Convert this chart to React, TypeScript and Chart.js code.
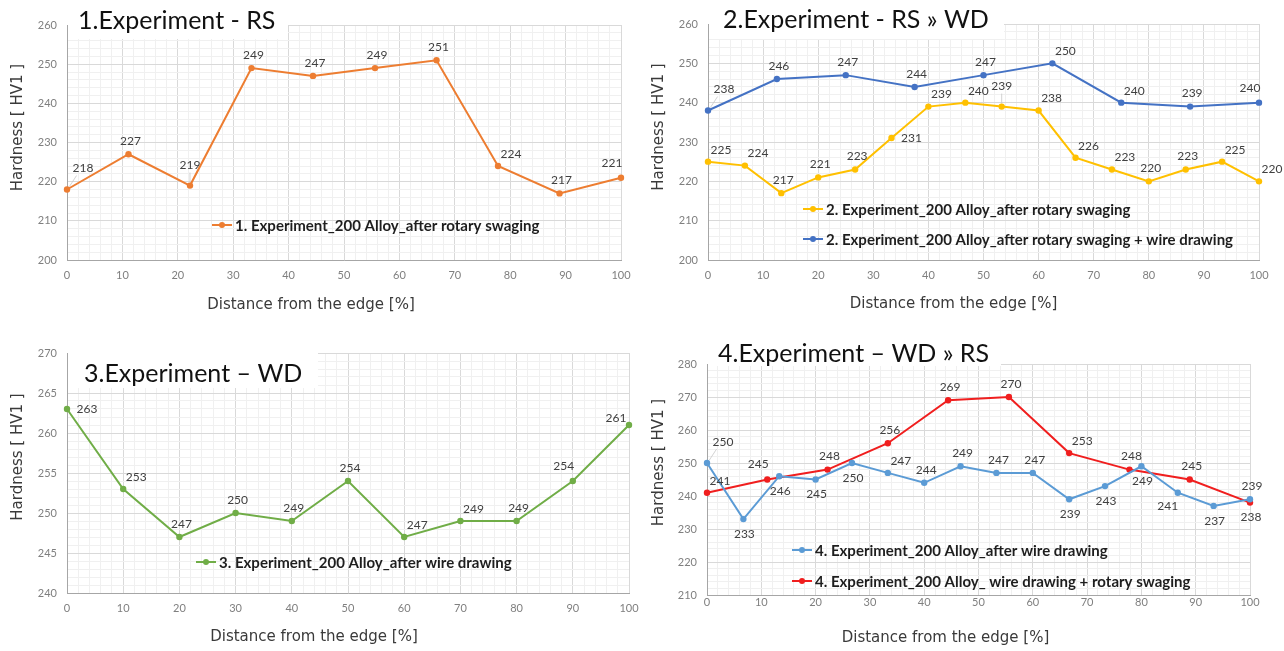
import React, { useEffect, useRef } from 'react';
import { Chart, registerables } from 'chart.js';
Chart.register(...registerables);

// ---------------- data ----------------
const X_NINTHS = [0, 11.1, 22.2, 33.3, 44.4, 55.6, 66.7, 77.8, 88.9, 100];
const X_FIFTEENTHS = [0, 6.7, 13.3, 20, 26.7, 33.3, 40, 46.7, 53.3, 60, 66.7, 73.3, 80, 86.7, 93.3, 100];
const X_EIGHTHS = [0, 12.5, 25, 37.5, 50, 62.5, 75, 87.5, 100];
const X_TENTHS = [0, 10, 20, 30, 40, 50, 60, 70, 80, 90, 100];

const EXP1_RS = [218, 227, 219, 249, 247, 249, 251, 224, 217, 221];
const EXP2_RS = [225, 224, 217, 221, 223, 231, 239, 240, 239, 238, 226, 223, 220, 223, 225, 220];
const EXP2_RS_WD = [238, 246, 247, 244, 247, 250, 240, 239, 240];
const EXP3_WD = [263, 253, 247, 250, 249, 254, 247, 249, 249, 254, 261];
const EXP4_WD = [250, 233, 246, 245, 250, 247, 244, 249, 247, 247, 239, 243, 249, 241, 237, 239];
const EXP4_WD_RS = [241, 245, 248, 256, 269, 270, 253, 248, 245, 238];

const TITLES = ['1.Experiment - RS', '2.Experiment - RS \u00bb WD', '3.Experiment \u2013 WD', '4.Experiment \u2013 WD \u00bb RS'];
const SERIES_NAMES = [
  '1. Experiment_200 Alloy_after rotary swaging',
  '2. Experiment_200 Alloy_after rotary swaging',
  '2. Experiment_200 Alloy_after rotary swaging + wire drawing',
  '3. Experiment_200 Alloy_after wire drawing',
  '4. Experiment_200 Alloy_after wire drawing',
  '4. Experiment_200 Alloy_ wire drawing + rotary swaging',
];
const X_TITLE = 'Distance from the edge [%]';
const Y_TITLE = 'Hardness [ HV1 ]';

// label placement keywords (style only)
const LBL1 = ['TR', 't', 'T', 't', 't', 't', 't', 'tr', 't', 'tl'];
const LBL2A = ['tr', 'tr', 't', 't', 't', 'r', 'tr', 'tr', 'T', 'tr', 'tr', 'tr', 't', 't', 'tr', 'tr'];
const LBL2B = ['TR', 't', 't', 't', 't', 'tr', 'tr', 't', 'tl'];
const LBL3 = ['r', 'tr', 't', 't', 't', 't', 'tr', 'tr', 't', 'tl', 'lt'];
const LBL4A = ['TR', 'b', 'b', 'b', 'b', 'tr', 't', 't', 't', 't', 'b', 'b', 'b', 'bl', 'b', 't'];
const LBL4B = ['tr', 'tl', 't', 't', 't', 't', 'tr', 't', 't', 'b'];

const ANCHOR: Record<string, [number, number]> = {
  t: [2, -13], T: [0, -20], tr: [13, -12], TR: [16, -21], tl: [-9, -15], lt: [-13, -7],
  r: [20, 0], b: [1, 15], bl: [-10, 13],
};
const LEADER = ['T', 'TR'];

type Series = { label: string; xs: number[]; ys: number[]; color: string; anchors: string[] };
type Panel = {
  left: number; top: number; width: number; height: number;
  area: { l: number; t: number; r: number; b: number };
  yMin: number; yMax: number; yMajor: number; yMinor: number;
  title: string; titleX: number; titleY: number; box: [number, number, number, number];
  series: Series[];
  legend: { x: number; y: number; gap: number };
  xLabelPad: number; xTitleY: number; xTitleShift: number; yTitleX: number; yTitleShift: number;
};

const PANELS: Panel[] = [
  {
    left: 0, top: 0, width: 640, height: 320,
    area: { l: 67, t: 25, r: 621, b: 260 },
    yMin: 200, yMax: 260, yMajor: 10, yMinor: 2,
    title: TITLES[0], titleX: 78, titleY: 29, box: [68, 0, 220, 39],
    series: [{ label: SERIES_NAMES[0], xs: X_NINTHS, ys: EXP1_RS, color: '#ED7D31', anchors: LBL1 }],
    legend: { x: 212, y: 225, gap: 30 },
    xLabelPad: 9, xTitleY: 305, xTitleShift: -33, yTitleX: 18, yTitleShift: -15,
  },
  {
    left: 640, top: 0, width: 644, height: 320,
    area: { l: 68, t: 24, r: 619, b: 260 },
    yMin: 200, yMax: 260, yMajor: 10, yMinor: 2,
    title: TITLES[1], titleX: 83, titleY: 28, box: [69, 0, 295, 39],
    series: [
      { label: SERIES_NAMES[1], xs: X_FIFTEENTHS, ys: EXP2_RS, color: '#FFC000', anchors: LBL2A },
      { label: SERIES_NAMES[2], xs: X_EIGHTHS, ys: EXP2_RS_WD, color: '#4472C4', anchors: LBL2B },
    ],
    legend: { x: 163, y: 209, gap: 30 },
    xLabelPad: 9, xTitleY: 304, xTitleShift: -30, yTitleX: 19, yTitleShift: -15,
  },
  {
    left: 0, top: 320, width: 640, height: 331,
    area: { l: 67, t: 33, r: 629, b: 273 },
    yMin: 240, yMax: 270, yMajor: 5, yMinor: 1,
    title: TITLES[2], titleX: 84, titleY: 62, box: [68, 28, 250, 40],
    series: [{ label: SERIES_NAMES[3], xs: X_TENTHS, ys: EXP3_WD, color: '#70AD47', anchors: LBL3 }],
    legend: { x: 196, y: 242, gap: 30 },
    xLabelPad: 9, xTitleY: 317, xTitleShift: -34, yTitleX: 18, yTitleShift: -16,
  },
  {
    left: 640, top: 320, width: 644, height: 331,
    area: { l: 67, t: 44, r: 610, b: 275 },
    yMin: 210, yMax: 280, yMajor: 10, yMinor: 2,
    title: TITLES[3], titleX: 78, titleY: 42, box: [68, 0, 293, 46],
    series: [
      { label: SERIES_NAMES[4], xs: X_FIFTEENTHS, ys: EXP4_WD, color: '#5B9BD5', anchors: LBL4A },
      { label: SERIES_NAMES[5], xs: X_NINTHS, ys: EXP4_WD_RS, color: '#F01E1E', anchors: LBL4B },
    ],
    legend: { x: 152, y: 230, gap: 31 },
    xLabelPad: 1, xTitleY: 318, xTitleShift: -33, yTitleX: 19, yTitleShift: -17,
  },
];

const isMajor = (v: number, m: number) => Math.abs(v / m - Math.round(v / m)) < 1e-6;

function makeChart(canvas: HTMLCanvasElement, p: Panel) {
  const overlay = {
    id: 'overlay',
    beforeDatasetsDraw(chart: any) {
      const c = chart.ctx as CanvasRenderingContext2D;
      const ca = chart.chartArea;
      c.save();
      c.fillStyle = '#ffffff';
      const [bx, by, bw, bh] = p.box;
      c.fillRect(bx, by, bw, bh);
      c.fillStyle = '#111111';
      c.font = '25px Lato, "Liberation Sans", sans-serif';
      c.textAlign = 'left';
      c.textBaseline = 'alphabetic';
      c.fillText(p.title, p.titleX, p.titleY);
      // axis titles (both sit a little off the plot centre in the original)
      c.fillStyle = '#3a3a3a';
      c.font = '15px "DejaVu Sans", sans-serif';
      c.textAlign = 'center';
      c.textBaseline = 'middle';
      c.fillText(X_TITLE, (ca.left + ca.right) / 2 + p.xTitleShift, p.xTitleY);
      c.save();
      c.translate(p.yTitleX, (ca.top + ca.bottom) / 2 + p.yTitleShift);
      c.rotate(-Math.PI / 2);
      c.fillText(Y_TITLE, 0, 0);
      c.restore();
      // leader lines for labels pulled away from their points
      c.strokeStyle = '#c8c8c8';
      c.lineWidth = 0.8;
      p.series.forEach((s, di) => {
        const meta = chart.getDatasetMeta(di);
        meta.data.forEach((el: any, i: number) => {
          const a = s.anchors[i];
          if (LEADER.indexOf(a) < 0) return;
          const [dx, dy] = ANCHOR[a];
          c.beginPath();
          c.moveTo(el.x + dx * 0.15, el.y - 3);
          c.lineTo(el.x + dx * 0.6, el.y + dy + 7);
          c.stroke();
        });
      });
      c.restore();
    },
    afterDatasetsDraw(chart: any) {
      const c = chart.ctx as CanvasRenderingContext2D;
      c.save();
      // data labels
      c.font = '12px Lato, "Liberation Sans", sans-serif';
      c.fillStyle = '#404040';
      c.textAlign = 'center';
      c.textBaseline = 'middle';
      p.series.forEach((s, di) => {
        const meta = chart.getDatasetMeta(di);
        meta.data.forEach((el: any, i: number) => {
          const [dx, dy] = ANCHOR[s.anchors[i]] || ANCHOR.t;
          c.fillText(String(s.ys[i]), el.x + dx, el.y + dy);
        });
      });
      // legend
      p.series.forEach((s, i) => {
        const y = p.legend.y + i * p.legend.gap;
        const x = p.legend.x;
        c.strokeStyle = s.color;
        c.lineWidth = 2;
        c.beginPath();
        c.moveTo(x, y);
        c.lineTo(x + 20, y);
        c.stroke();
        c.fillStyle = s.color;
        c.beginPath();
        c.arc(x + 10, y, 3, 0, Math.PI * 2);
        c.fill();
        c.fillStyle = '#1e1e1e';
        c.font = 'bold 15px Lato, "Liberation Sans", sans-serif';
        c.textAlign = 'left';
        c.textBaseline = 'middle';
        c.fillText(s.label, x + 23, y + 1);
      });
      c.restore();
    },
  };

  return new Chart(canvas, {
    type: 'line',
    data: {
      datasets: p.series.map((s) => ({
        label: s.label,
        data: s.xs.map((x, i) => ({ x, y: s.ys[i] })),
        borderColor: s.color,
        backgroundColor: s.color,
        borderWidth: 2,
        pointRadius: 3.2,
        pointBorderWidth: 0,
        pointBackgroundColor: s.color,
        tension: 0,
        clip: false as any,
      })),
    },
    options: {
      animation: false,
      responsive: false,
      events: [],
      layout: { padding: { left: 0, top: p.area.t, right: p.width - p.area.r, bottom: 0 } },
      plugins: { legend: { display: false }, tooltip: { enabled: false }, title: { display: false } },
      scales: {
        x: {
          type: 'linear', min: 0, max: 100,
          afterFit: (s: any) => { s.height = p.height - p.area.b; s.paddingLeft = 0; s.paddingRight = 0; },
          ticks: {
            stepSize: 2, maxTicksLimit: 1000, autoSkip: false, maxRotation: 0, minRotation: 0,
            padding: p.xLabelPad, color: '#7f7f7f',
            font: { family: 'Lato, "Liberation Sans", sans-serif', size: 11 },
            callback: (v: any) => (isMajor(Number(v), 10) ? String(v) : ''),
          },
          grid: {
            drawTicks: false, lineWidth: 1,
            color: (ctx: any) => (ctx.tick && isMajor(ctx.tick.value, 10) ? '#d9d9d9' : '#f0f0f0'),
          },
          border: { display: true, color: '#a6a6a6', width: 1 },
          title: { display: false },
        },
        y: {
          type: 'linear', min: p.yMin, max: p.yMax,
          afterFit: (s: any) => { s.width = p.area.l; s.paddingTop = 0; s.paddingBottom = 0; },
          ticks: {
            stepSize: p.yMinor, maxTicksLimit: 1000, autoSkip: false,
            padding: 10, color: '#7f7f7f',
            font: { family: 'Lato, "Liberation Sans", sans-serif', size: 11 },
            callback: (v: any) => (isMajor(Number(v), p.yMajor) ? String(v) : ''),
          },
          grid: {
            drawTicks: false, lineWidth: 1,
            color: (ctx: any) => (ctx.tick && isMajor(ctx.tick.value, p.yMajor) ? '#d9d9d9' : '#f0f0f0'),
          },
          border: { display: true, color: '#a6a6a6', width: 1 },
          title: { display: false },
        },
      },
    } as any,
    plugins: [overlay],
  });
}

function PanelChart({ p }: { p: Panel }) {
  const ref = useRef<HTMLCanvasElement | null>(null);
  useEffect(() => {
    if (!ref.current) return;
    const chart = makeChart(ref.current, p);
    return () => chart.destroy();
  }, [p]);
  return (
    <canvas
      ref={ref}
      width={p.width}
      height={p.height}
      style={{ position: 'absolute', left: p.left, top: p.top, width: p.width, height: p.height }}
    />
  );
}

export default function App() {
  return (
    <div style={{ position: 'absolute', left: 0, top: 0, width: 1284, height: 651, background: '#ffffff', overflow: 'hidden' }}>
      {PANELS.map((p, i) => (
        <PanelChart key={i} p={p} />
      ))}
    </div>
  );
}
